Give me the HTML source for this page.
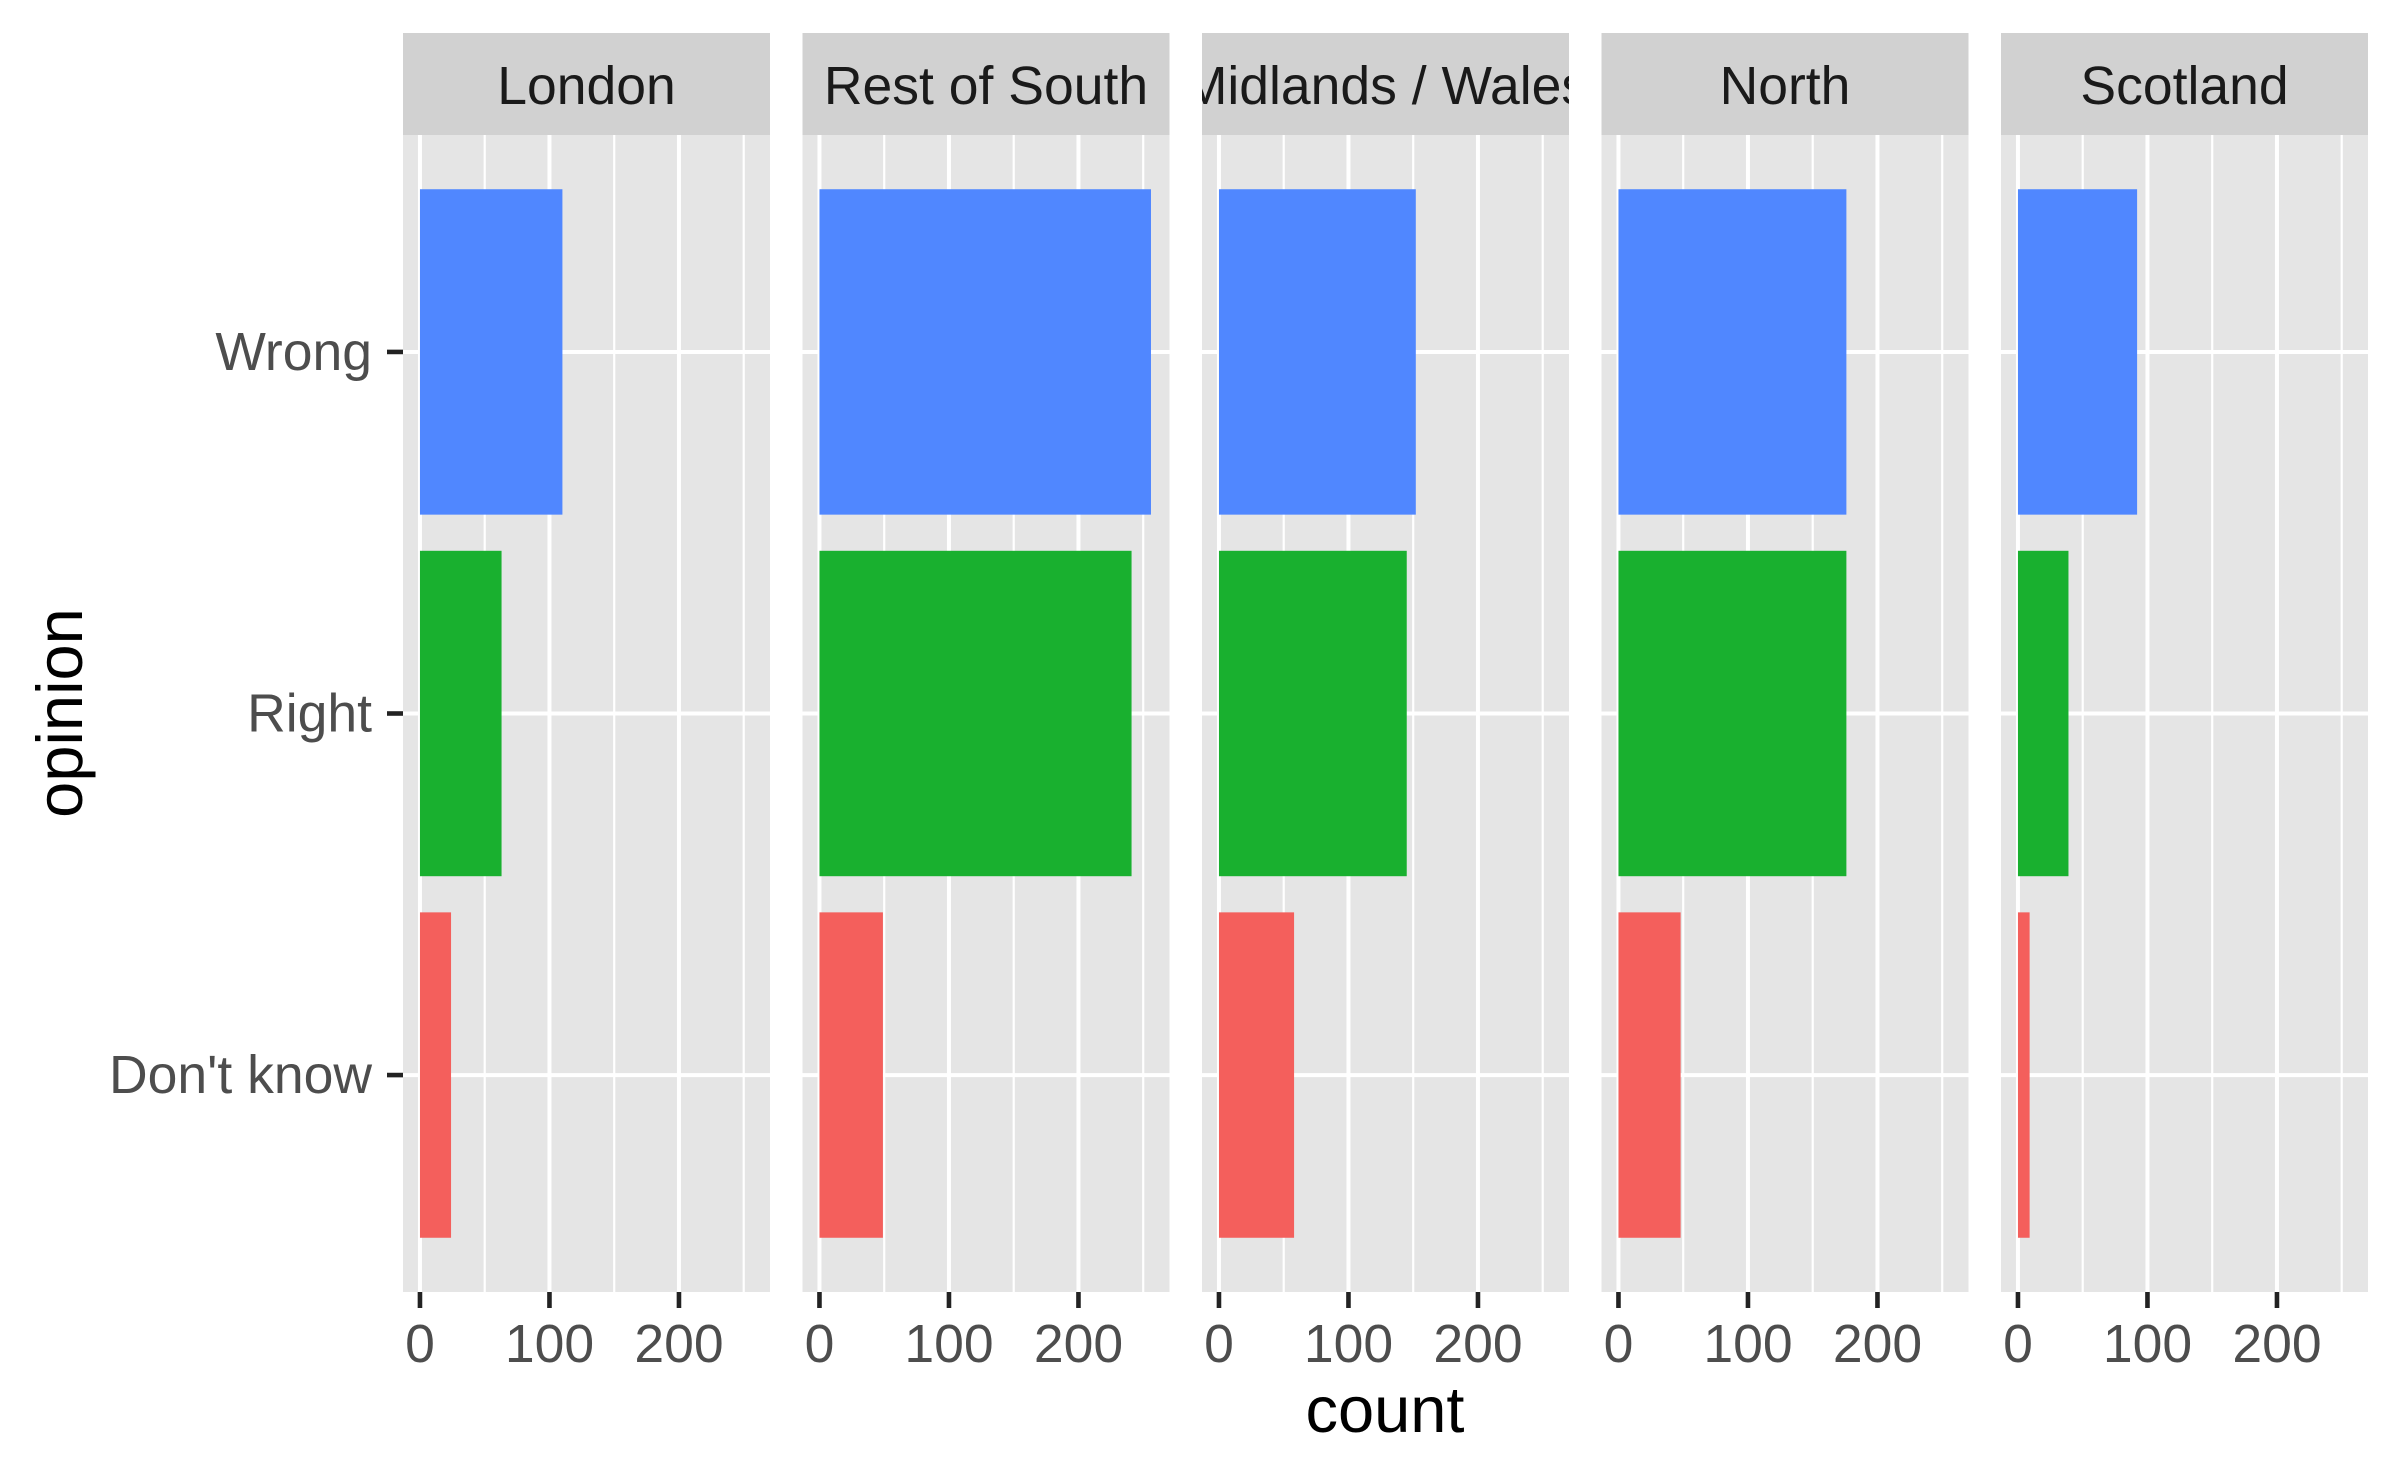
<!DOCTYPE html>
<html><head><meta charset="utf-8">
<style>
html,body{margin:0;padding:0;background:#fff;}
svg{display:block;font-family:"Liberation Sans",Arial,sans-serif;}
</style></head>
<body>
<svg id="chart" width="2400" height="1483" viewBox="0 0 2400 1483"></svg>
<script>
const regions = ["London","Rest of South","Midlands / Wales","North","Scotland"];
const opinions = ["Don't know","Right","Wrong"];
const dontKnow = [24, 49, 58, 48, 9];
const right = [63, 241, 145, 176, 39];
const wrong = [110, 256, 152, 176, 92];
const xTicks = [0, 100, 200];
const xMinor = [50, 150, 250];
const colors = ["#f45f5c","#19b02f","#5087ff"];

const NS="http://www.w3.org/2000/svg";
const svg=document.getElementById('chart');
function mk(tag,attrs,parent){const e=document.createElementNS(NS,tag);for(const k in attrs)e.setAttribute(k,attrs[k]);(parent||svg).appendChild(e);return e;}

const panelLeft0=403, panelW=367, panelStep=399.5;
const stripTop=33, stripBot=135, panelTop=135, panelBot=1292;
const xmin=-13.1, xmax=270.3;
const ymin=0.4, ymax=3.6;
function xs(p,v){return panelLeft0+p*panelStep+(v-xmin)/(xmax-xmin)*panelW;}
function ys(i){return panelBot-((i+1)-ymin)/(ymax-ymin)*(panelBot-panelTop);}
const series=[dontKnow,right,wrong];

regions.forEach((r,p)=>{
  const L=panelLeft0+p*panelStep;
  const g=mk('g',{});
  
  
  mk('rect',{x:L,y:panelTop,width:panelW,height:panelBot-panelTop,fill:'#e5e5e5'},g);
  xMinor.forEach(v=>mk('line',{x1:xs(p,v),x2:xs(p,v),y1:panelTop,y2:panelBot,stroke:'#fff','stroke-width':2.2},g));
  opinions.forEach((o,i)=>mk('line',{x1:L,x2:L+panelW,y1:ys(i),y2:ys(i),stroke:'#fff','stroke-width':4},g));
  xTicks.forEach(v=>mk('line',{x1:xs(p,v),x2:xs(p,v),y1:panelTop,y2:panelBot,stroke:'#fff','stroke-width':4},g));
  series.forEach((s,i)=>{
    const bh=0.9*(panelBot-panelTop)/(ymax-ymin);
    const b=mk('rect',{x:xs(p,0),y:ys(i)-bh/2,width:xs(p,s[p])-xs(p,0),height:bh,fill:colors[i]},g);
    
    
  });
  const sg=mk('g',{});
  
  
  const cp=mk('clipPath',{id:'cp'+p},sg);
  mk('rect',{x:L,y:stripTop,width:panelW,height:stripBot-stripTop},cp);
  mk('rect',{x:L,y:stripTop,width:panelW,height:stripBot-stripTop,fill:'#d1d1d1'},sg);
  const t=mk('text',{x:L+panelW/2,y:104,'text-anchor':'middle','font-size':53.5,fill:'#1a1a1a','clip-path':'url(#cp'+p+')'},sg);
  t.textContent=r;
  xTicks.forEach(v=>{
    mk('line',{x1:xs(p,v),x2:xs(p,v),y1:panelBot,y2:panelBot+16,stroke:'#222','stroke-width':4.6});
    const tt=mk('text',{x:xs(p,v),y:1362,'text-anchor':'middle','font-size':53.5,fill:'#4d4d4d'});
    
    
    tt.textContent=v;
  });
});
opinions.forEach((o,i)=>{
  mk('line',{x1:387,x2:403,y1:ys(i),y2:ys(i),stroke:'#222','stroke-width':4.6});
  const t=mk('text',{x:372,y:ys(i)+18,'text-anchor':'end','font-size':53.5,fill:'#4d4d4d'});
  
  
  t.textContent=o;
});
const xt=mk('text',{x:1385,y:1432,'text-anchor':'middle','font-size':65,fill:'#000'});


xt.textContent='count';
const yt=mk('text',{x:0,y:0,'text-anchor':'middle','font-size':65,fill:'#000',transform:'translate(82,713) rotate(-90)'});


yt.textContent='opinion';
</script>
</body></html>
